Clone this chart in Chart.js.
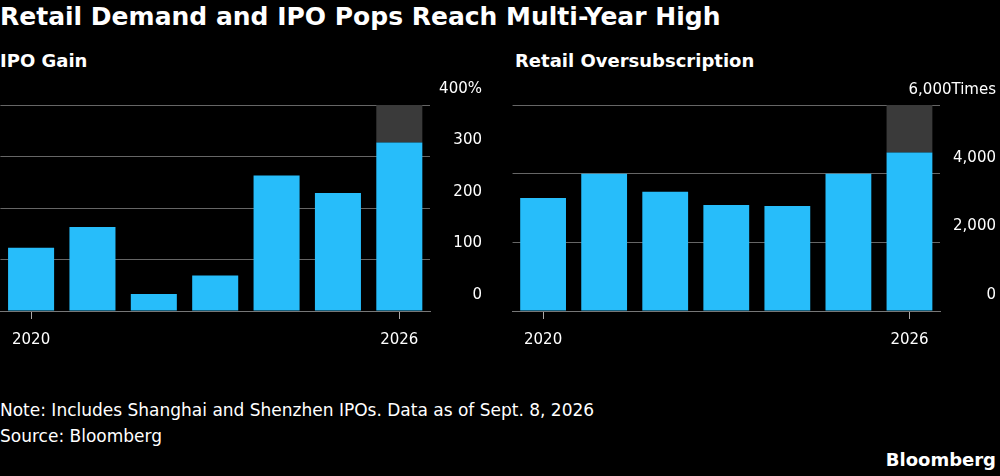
<!DOCTYPE html>
<html>
<head>
<meta charset="utf-8">
<script src="https://cdn.jsdelivr.net/npm/chart.js@4"></script>
<style>
body { margin:0; background:#000; width:1000px; height:476px; overflow:hidden; font-family:"DejaVu Sans", sans-serif; color:#fff; position:relative; }
.t { position:absolute; white-space:nowrap; }
#title { left:0; top:2px; font-size:25px; font-weight:bold; }
.sub { top:50px; font-size:18px; font-weight:bold; }
.note { left:0; font-size:17px; }
#bb { right:4px; bottom:6px; font-size:18px; font-weight:bold; }
#unit { right:4px; top:80px; font-size:15px; }
.box { position:absolute; top:78px; height:283px; }
</style>
</head>
<body>
<div class="t" id="title">Retail Demand and IPO Pops Reach Multi-Year High</div>
<div class="t sub" style="left:0">IPO Gain</div>
<div class="t sub" style="left:515px">Retail Oversubscription</div>
<div class="box" style="left:0;width:482px"><canvas id="gainChart"></canvas></div>
<div class="box" style="left:512px;width:484px"><canvas id="retailChart"></canvas></div>
<div class="t" id="unit">6,000Times</div>
<div class="t note" style="top:400px">Note: Includes Shanghai and Shenzhen IPOs. Data as of Sept. 8, 2026</div>
<div class="t note" style="top:426px">Source: Bloomberg</div>
<div class="t" id="bb">Bloomberg</div>
<script>
const years = ['2020', '2021', '2022', '2023', '2024', '2025', '2026']
const gainValues = [123, 163, 33, 69, 263, 229, 327]
const gainOverflow = [0, 0, 0, 0, 0, 0, 73]
const retailValues = [3290, 4000, 3470, 3090, 3060, 4000, 4620]
const retailOverflow = [0, 0, 0, 0, 0, 0, 1380]

Chart.defaults.font.family = 'DejaVu Sans'
Chart.defaults.font.size = 15
Chart.defaults.color = '#fff'

function makeChart(id, values, overflow, max, step, fmt, axisWidth) {
    return new Chart(document.getElementById(id), {
        type: 'bar',
        data: {
            labels: years,
            datasets: [
                { data: values, backgroundColor: '#27bdfa', categoryPercentage: 1, barPercentage: 0.75 },
                { data: overflow, backgroundColor: '#3a3a3a', categoryPercentage: 1, barPercentage: 0.75 }
            ]
        },
        options: {
            animation: false,
            responsive: true,
            maintainAspectRatio: false,
            layout: { padding: { top: 27, right: 0 } },
            plugins: { legend: { display: false }, tooltip: { enabled: false } },
            scales: {
                x: {
                    stacked: true,
                    grid: {
                        display: true, drawOnChartArea: false, tickLength: 8, offset: false,
                        color: c => (c.index === 0 || c.index === 6) ? '#aaa' : 'rgba(0,0,0,0)'
                    },
                    border: { color: '#777' },
                    ticks: {
                        maxRotation: 0, autoSkip: false, color: '#fff', padding: 12,
                        callback: (v, i) => (i === 0 || i === 6) ? years[i] : ''
                    }
                },
                y: {
                    stacked: true,
                    position: 'right',
                    min: 0, max: max,
                    grid: { color: '#666', drawTicks: false },
                    border: { display: false },
                    afterFit: s => { s.width = axisWidth },
                    ticks: {
                        stepSize: step, padding: 0, labelOffset: -16, color: '#fff', crossAlign: 'far',
                        callback: fmt
                    }
                }
            }
        }
    })
}

var gainChart = makeChart('gainChart', gainValues, gainOverflow, 400, 100, v => v === 400 ? '400%' : String(v), 52)
var retailChart = makeChart('retailChart', retailValues, retailOverflow, 6000, 2000, v => v === 6000 ? '' : v.toLocaleString('en-US'), 56)
</script>
</body>
</html>
